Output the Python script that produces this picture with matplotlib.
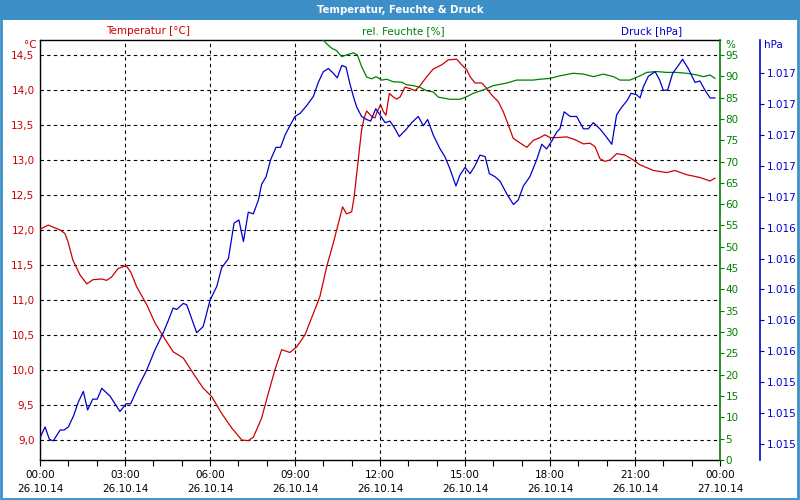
import matplotlib
matplotlib.use("Agg")
import matplotlib.pyplot as plt
from matplotlib.patches import Rectangle
from matplotlib.ticker import FuncFormatter, FixedLocator, MultipleLocator

# ---------------- data ----------------
temp_hours = [0.00, 0.29, 0.71, 0.88, 0.99, 1.16, 1.41, 1.65, 1.87, 2.18, 2.35, 2.53, 2.76, 3.04,
              3.20, 3.41, 3.77, 4.06, 4.35, 4.70, 5.06, 5.41, 5.76, 6.06, 6.41, 6.77, 7.12, 7.35,
              7.53, 7.82, 8.06, 8.29, 8.53, 8.82, 9.06, 9.35, 9.65, 9.88, 10.12, 10.35, 10.56,
              10.68, 10.82, 11.00, 11.09, 11.18, 11.27, 11.35, 11.44, 11.53, 11.71, 11.82, 11.90,
              12.02, 12.12, 12.21, 12.33, 12.47, 12.59, 12.71, 12.88, 13.06, 13.24, 13.41, 13.65,
              13.88, 14.18, 14.41, 14.71, 14.88, 15.06, 15.18, 15.35, 15.59, 15.77, 15.94, 16.18,
              16.35, 16.53, 16.70, 16.88, 17.18, 17.41, 17.65, 17.82, 18.00, 18.24, 18.59, 18.88,
              19.18, 19.41, 19.59, 19.76, 19.94, 20.12, 20.35, 20.65, 20.94, 21.18, 21.65, 22.12,
              22.41, 22.82, 23.29, 23.65, 23.82]
temperature = [12.01, 12.07, 12.00, 11.95, 11.83, 11.57, 11.36, 11.23, 11.29, 11.30, 11.28, 11.33,
               11.45, 11.49, 11.40, 11.19, 10.93, 10.67, 10.48, 10.26, 10.17, 9.95, 9.74, 9.62,
               9.38, 9.17, 9.00, 8.99, 9.04, 9.31, 9.67, 10.00, 10.29, 10.25, 10.33, 10.50, 10.81,
               11.05, 11.48, 11.81, 12.14, 12.33, 12.23, 12.26, 12.48, 12.81, 13.14, 13.43, 13.60,
               13.70, 13.62, 13.60, 13.69, 13.79, 13.69, 13.64, 13.95, 13.90, 13.87, 13.90, 14.04,
               14.02, 13.99, 14.06, 14.19, 14.30, 14.36, 14.43, 14.44, 14.36, 14.29, 14.19, 14.10,
               14.10, 14.02, 13.93, 13.83, 13.69, 13.50, 13.31, 13.26, 13.18, 13.28, 13.32, 13.36,
               13.32, 13.32, 13.33, 13.29, 13.23, 13.24, 13.19, 13.02, 12.98, 13.00, 13.09, 13.07,
               13.00, 12.93, 12.85, 12.82, 12.85, 12.79, 12.75, 12.70, 12.74]

hum_hours = [9.70, 9.99, 10.12, 10.29, 10.47, 10.65, 10.82, 11.06, 11.20, 11.35, 11.53, 11.71,
             11.86, 12.06, 12.24, 12.47, 12.77, 12.94, 13.18, 13.41, 13.65, 13.88, 14.06, 14.47,
             14.82, 15.06, 15.29, 15.65, 16.00, 16.47, 16.82, 17.41, 17.65, 18.00, 18.35, 18.82,
             19.18, 19.53, 19.88, 20.24, 20.47, 20.82, 21.18, 21.41, 21.76, 22.12, 22.47, 22.82,
             23.18, 23.41, 23.65, 23.82]
humidity = [100.5, 98.5, 97.6, 96.6, 96.0, 94.6, 95.0, 95.5, 95.0, 92.3, 89.8, 89.4, 89.9, 89.1,
            89.3, 88.7, 88.6, 88.0, 87.8, 87.4, 86.6, 86.3, 85.1, 84.6, 84.6, 85.2, 86.0, 86.8,
            87.8, 88.4, 89.1, 89.1, 89.3, 89.5, 90.1, 90.7, 90.5, 89.9, 90.5, 89.9, 89.1, 89.1,
            90.1, 90.9, 91.1, 90.9, 90.9, 90.7, 90.3, 89.9, 90.3, 89.5]

press_hours = [0.00, 0.18, 0.33, 0.47, 0.71, 0.85, 1.00, 1.18, 1.35, 1.53, 1.68, 1.86, 2.02, 2.18,
               2.47, 2.82, 3.04, 3.20, 3.47, 3.77, 4.06, 4.35, 4.53, 4.70, 4.82, 5.06, 5.18, 5.53,
               5.76, 6.00, 6.24, 6.41, 6.65, 6.85, 7.02, 7.18, 7.35, 7.53, 7.71, 7.82, 7.98, 8.14,
               8.33, 8.49, 8.65, 8.82, 9.00, 9.18, 9.41, 9.65, 9.82, 10.00, 10.18, 10.35, 10.49,
               10.65, 10.80, 10.94, 11.06, 11.18, 11.35, 11.53, 11.67, 11.85, 12.00, 12.18, 12.35,
               12.50, 12.68, 12.94, 13.12, 13.35, 13.53, 13.68, 13.88, 14.12, 14.29, 14.47, 14.68,
               14.82, 15.00, 15.18, 15.35, 15.53, 15.71, 15.86, 16.06, 16.24, 16.47, 16.71, 16.88,
               17.06, 17.29, 17.53, 17.71, 17.88, 18.06, 18.24, 18.35, 18.50, 18.71, 18.94, 19.18,
               19.35, 19.53, 19.76, 19.98, 20.18, 20.35, 20.53, 20.71, 20.86, 21.06, 21.18, 21.29,
               21.47, 21.71, 21.86, 22.00, 22.15, 22.33, 22.53, 22.68, 22.88, 23.12, 23.29, 23.47,
               23.65, 23.82]
pressure = [1014.99, 1015.06, 1014.98, 1014.97, 1015.04, 1015.04, 1015.06, 1015.13, 1015.22,
            1015.29, 1015.17, 1015.24, 1015.24, 1015.31, 1015.26, 1015.16, 1015.21, 1015.21,
            1015.32, 1015.43, 1015.56, 1015.67, 1015.75, 1015.83, 1015.82, 1015.86, 1015.85,
            1015.67, 1015.71, 1015.88, 1015.97, 1016.09, 1016.15, 1016.38, 1016.40, 1016.26,
            1016.45, 1016.44, 1016.53, 1016.63, 1016.68, 1016.79, 1016.87, 1016.87, 1016.95,
            1017.01, 1017.07, 1017.09, 1017.14, 1017.20, 1017.29, 1017.36, 1017.38, 1017.35,
            1017.32, 1017.40, 1017.39, 1017.28, 1017.20, 1017.13, 1017.07, 1017.05, 1017.04,
            1017.12, 1017.08, 1017.03, 1017.04, 1017.00, 1016.94, 1016.99, 1017.03, 1017.07,
            1017.01, 1017.05, 1016.95, 1016.86, 1016.81, 1016.73, 1016.62, 1016.69, 1016.74,
            1016.70, 1016.75, 1016.82, 1016.81, 1016.70, 1016.68, 1016.65, 1016.57, 1016.50,
            1016.53, 1016.62, 1016.68, 1016.79, 1016.89, 1016.86, 1016.91, 1016.97, 1016.99,
            1017.10, 1017.07, 1017.07, 1016.99, 1016.99, 1017.03, 1016.99, 1016.94, 1016.89,
            1017.08, 1017.13, 1017.17, 1017.22, 1017.21, 1017.19, 1017.26, 1017.33, 1017.36,
            1017.31, 1017.24, 1017.24, 1017.35, 1017.40, 1017.44, 1017.38, 1017.29, 1017.30,
            1017.24, 1017.19, 1017.19]

tick_hours = [0, 3, 6, 9, 12, 15, 18, 21, 24]
tick_times = ["00:00", "03:00", "06:00", "09:00", "12:00", "15:00", "18:00", "21:00", "00:00"]
tick_dates = ["26.10.14"] * 8 + ["27.10.14"]

temp_ticks = [9.0, 9.5, 10.0, 10.5, 11.0, 11.5, 12.0, 12.5, 13.0, 13.5, 14.0, 14.5]
hum_ticks = list(range(0, 100, 5))
press_ticks = [1014.95 + 0.2 * i for i in range(13)]

title = "Temperatur, Feuchte & Druck"

# ---------------- style ----------------
RED = "#cc0000"
GREEN = "#008000"
BLUE = "#0000cc"
BAR = "#3d8fc8"
FS = 7.5
plt.rcParams["font.family"] = ["DejaVu Sans"]

fig = plt.figure(figsize=(8, 5), dpi=100, facecolor="white")
W, H = 800, 500

def fx(px):
    return px / W

def fy(py):
    return 1 - py / H

# title bar and border
fig.patches.append(Rectangle((0, fy(20)), 1, 20 / H, transform=fig.transFigure,
                             facecolor=BAR, edgecolor="none", zorder=0))
fig.patches.append(Rectangle((0.001, 0.002), 0.997, 0.996, transform=fig.transFigure,
                             facecolor="none", edgecolor=BAR, linewidth=2, zorder=5))
fig.text(0.5, fy(10), title, color="white", fontsize=7.3, fontweight="bold",
         ha="center", va="center")

ax = fig.add_axes([fx(40), fy(460), fx(680), 420 / H])
ax.set_xlim(0, 24)
ax.set_ylim(8.714, 14.714)
ax.plot(temp_hours, temperature, color=RED, lw=0.9, zorder=3)

ax.xaxis.set_major_locator(FixedLocator(tick_hours))
ax.xaxis.set_minor_locator(MultipleLocator(1))
ax.set_xticklabels([f"{t}\n{d}" for t, d in zip(tick_times, tick_dates)],
                   fontsize=FS, linespacing=1.45)
ax.tick_params(axis="x", which="both", direction="out", length=4, width=0.8, pad=3.5)
ax.set_yticks(temp_ticks)
ax.yaxis.set_major_formatter(FuncFormatter(lambda v, p: f"{v:.1f}".replace(".", ",")))
ax.tick_params(axis="y", colors=RED, labelsize=FS, length=0, pad=4)
ax.grid(True, which="major", color="black", linestyle=(0, (3, 3)), linewidth=0.8)
for s in ["left", "bottom", "top"]:
    ax.spines[s].set_color("black")
    ax.spines[s].set_linewidth(1.0)
ax.spines["right"].set_visible(False)

# humidity axis
axh = ax.twinx()
axh.set_ylim(0, 98.5)
axh.plot(hum_hours, humidity, color=GREEN, lw=0.9, zorder=3)
axh.set_yticks(hum_ticks)
axh.tick_params(axis="y", colors=GREEN, labelsize=FS, length=3, width=0.8, pad=1)
axh.spines["right"].set_color(GREEN)
axh.spines["right"].set_linewidth(1.2)
for s in ["left", "bottom", "top"]:
    axh.spines[s].set_visible(False)

# pressure axis
axp = ax.twinx()
axp.set_ylim(1014.846, 1017.565)
axp.plot(press_hours, pressure, color=BLUE, lw=0.9, zorder=4)
axp.spines["right"].set_position(("axes", 720 / 680))
axp.spines["right"].set_color(BLUE)
axp.spines["right"].set_linewidth(1.2)
for s in ["left", "bottom", "top"]:
    axp.spines[s].set_visible(False)
axp.set_yticks(press_ticks)
axp.yaxis.set_major_formatter(FuncFormatter(lambda v, p: f"{round(v):,}".replace(",", ".")))
axp.tick_params(axis="y", colors=BLUE, labelsize=FS, length=3, width=0.8, pad=2)

# headers
fig.text(fx(148), fy(31), "Temperatur [°C]", color=RED, fontsize=FS, ha="center", va="center")
fig.text(fx(403), fy(31), "rel. Feuchte [%]", color=GREEN, fontsize=FS, ha="center", va="center")
fig.text(fx(652), fy(31), "Druck [hPa]", color=BLUE, fontsize=FS, ha="center", va="center")
fig.text(fx(37), fy(45), "°C", color=RED, fontsize=FS, ha="right", va="center")
fig.text(fx(725), fy(45), "%", color=GREEN, fontsize=FS, ha="left", va="center")
fig.text(fx(764), fy(45), "hPa", color=BLUE, fontsize=FS, ha="left", va="center")

fig.savefig("out.png", dpi=100, facecolor="white")
